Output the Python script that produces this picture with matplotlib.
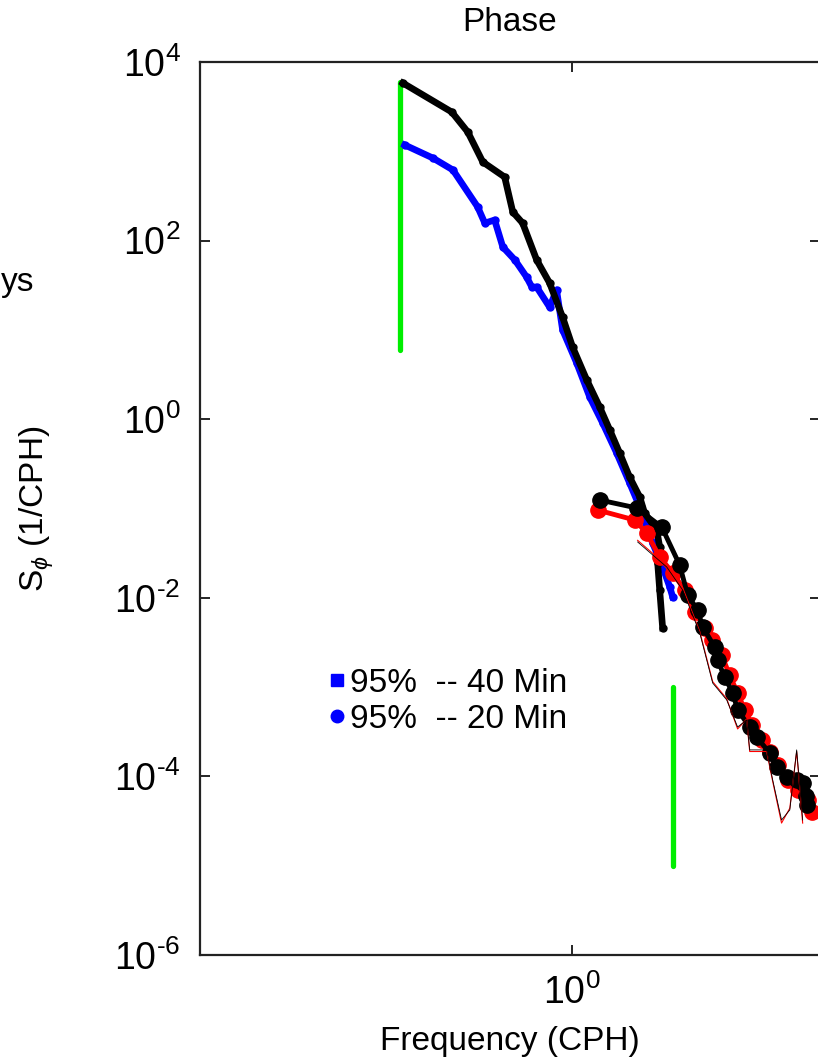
import math
import matplotlib
matplotlib.use('Agg')
import matplotlib.pyplot as plt
from matplotlib.lines import Line2D
from matplotlib.ticker import NullLocator

plt.rcParams['font.family'] = ['Liberation Sans', 'DejaVu Sans']
plt.rcParams['mathtext.fontset'] = 'custom'
plt.rcParams['mathtext.rm'] = 'Liberation Sans'
plt.rcParams['mathtext.it'] = 'Liberation Sans:italic'

# 40 min record (low frequency part)
freq_40 = [0.478, 0.592, 0.635, 0.678, 0.746, 0.773, 0.807, 0.858, 0.908, 0.961,
           1.004, 1.068, 1.130, 1.181, 1.233, 1.288, 1.346, 1.375, 1.450, 1.469,
           1.456, 1.469, 1.488]
spec_40 = [5820, 2754, 1644, 759, 515, 209, 157, 60.7, 33.5, 13.9,
           6.43, 2.75, 1.37, 0.757, 0.419, 0.225, 0.135, 0.0891, 0.0574, 0.0371,
           0.0245, 0.0122, 0.00459]

freq_blue = [0.482, 0.545, 0.595, 0.663, 0.684, 0.714, 0.740, 0.780, 0.821, 0.840,
             0.858, 0.908, 0.936, 0.961, 1.022, 1.082, 1.145, 1.217, 1.288, 1.346,
             1.424, 1.488, 1.535, 1.555]
spec_blue = [1178, 841, 618, 238, 157, 170, 84.8, 60.7, 39.1, 30.2,
             30.2, 18.0, 28.0, 9.97, 4.26, 1.77, 0.905, 0.419, 0.193, 0.104,
             0.0411, 0.0221, 0.0132, 0.0102]

# 20 min record (high frequency part)
freq_20k = [1.130, 1.328, 1.482, 1.603, 1.660, 1.734, 1.773, 1.868, 1.892, 1.951,
            2.021, 2.065, 2.177, 2.244, 2.375, 2.449, 2.559, 2.673, 2.744, 2.780, 2.800]
spec_20k = [0.1245, 0.1014, 0.0621, 0.0233, 0.01074, 0.00729, 0.00471, 0.00281, 0.00201, 0.00130,
            0.000859, 0.000555, 0.000357, 0.000276, 0.000183, 0.000127, 0.0000984, 0.0000912,
            0.0000843, 0.0000600, 0.0000479]

freq_20r = [1.120, 1.317, 1.388, 1.469, 1.555, 1.638, 1.712, 1.788, 1.844, 1.926,
            1.994, 2.065, 2.130, 2.196, 2.294, 2.375, 2.460, 2.570, 2.685, 2.804, 2.854]
spec_20r = [0.0961, 0.0743, 0.0532, 0.0286, 0.0190, 0.01222, 0.00693, 0.00459, 0.00336, 0.00229,
            0.00136, 0.000859, 0.000555, 0.000377, 0.000256, 0.000187, 0.000134, 0.0000912,
            0.0000705, 0.0000545, 0.0000399]

# raw (thin) estimates
freq_thin = [1.334, 1.515, 1.624, 1.750, 1.852, 1.969, 2.065, 2.148, 2.177, 2.344,
             2.407, 2.502, 2.594, 2.673, 2.744]
spec_thin_k = [0.0422, 0.0221, 0.01222, 0.00404, 0.00111, 0.000718, 0.000357, 0.000429, 0.000198,
               0.000198, 0.0000912, 0.0000325, 0.0000421, 0.000198, 0.0000325]
spec_thin_r = [0.0440, 0.0230, 0.01300, 0.00420, 0.00115, 0.000740, 0.000340, 0.000440, 0.000190,
               0.000190, 0.0000880, 0.0000300, 0.0000440, 0.000190, 0.0000300]

# 95% confidence bars
ci_freq = [0.472, 1.555]
ci_low = [6.0, 1e-5]
ci_high = [6000, 1e-3]

yticks = [1e-6, 1e-4, 1e-2, 1e0, 1e2, 1e4]


def pow_label(v):
    e = round(math.log10(v))
    if e < 0:
        return r'$10^{\text{-}%d}$' % (-e)
    return r'$10^{%d}$' % e


fig = plt.figure(figsize=(8.18, 10.61), dpi=100)
ax = fig.add_axes([200 / 818, 106 / 1061, 620 / 818, 893 / 1061])

for f, lo, hi in zip(ci_freq, ci_low, ci_high):
    ax.plot([f, f], [lo, hi], color='#00ee00', lw=3.8, solid_capstyle='round', zorder=2)

ax.plot(freq_blue, spec_blue, color='blue', lw=4.8, marker='o', ms=5, zorder=3)
ax.plot(freq_40, spec_40, color='black', lw=4.8, marker='o', ms=5, zorder=4)
ax.plot(freq_20r, spec_20r, color='red', lw=3.5, marker='o', ms=11, zorder=5)
ax.plot(freq_20k, spec_20k, color='black', lw=3.5, marker='o', ms=11, zorder=6)
ax.plot(freq_thin, spec_thin_r, color='red', lw=0.8, zorder=7)
ax.plot(freq_thin, spec_thin_k, color='black', lw=0.6, zorder=8)

ax.set_xscale('log')
ax.set_yscale('log')
ax.set_xlim(0.197, 2.96)
ax.set_ylim(1e-6, 1e4)
ax.set_yticks(yticks)
ax.set_yticklabels([pow_label(v) for v in yticks])
ax.set_xticks([1.0])
ax.set_xticklabels([pow_label(1.0)])
ax.xaxis.set_minor_locator(NullLocator())
ax.yaxis.set_minor_locator(NullLocator())
ax.tick_params(direction='in', length=7, width=1.2, labelsize=27, pad=14,
               top=True, right=True)
for s in ax.spines.values():
    s.set_linewidth(1.6)
    s.set_color('#222222')

ax.set_title('Phase', fontsize=24, pad=22)
ax.set_xlabel('Frequency (CPH)', fontsize=24, labelpad=10)
ax.set_ylabel(r'S$_{\phi}$ (1/CPH)', fontsize=24)
ax.yaxis.set_label_coords(-0.232, 0.5)

handles = [Line2D([], [], ls='none', marker='s', color='blue', ms=9),
           Line2D([], [], ls='none', marker='o', color='blue', ms=9)]
ax.legend(handles, ['95%  -- 40 Min', '95%  -- 20 Min'], loc='upper left',
          bbox_to_anchor=(0.18, 0.34), frameon=False, fontsize=24,
          handlelength=0.5, handletextpad=0.15, labelspacing=0.15, borderpad=0)

fig.text(1 / 818, 1 - 283 / 1061, 'ys', fontsize=24, ha='left', va='center')

fig.savefig('out.png', dpi=100)
